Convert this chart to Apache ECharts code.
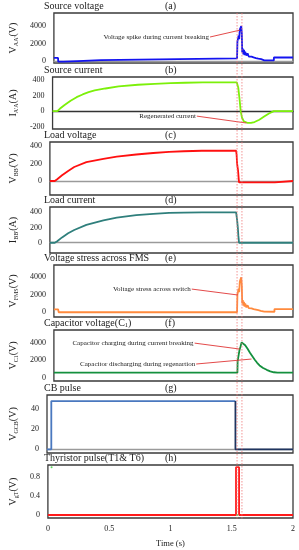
<!DOCTYPE html>
<html><head><meta charset="utf-8">
<script src="https://cdn.jsdelivr.net/npm/echarts@6/dist/echarts.min.js"></script>
<style>html,body{margin:0;padding:0;background:#fff}#c{width:299px;height:550px}</style>
</head><body><div id="c"></div>
<script>
// ---------------- DATA ----------------
const timeTicks = [0, 0.5, 1, 1.5, 2];
const panelTitles = ['Source voltage', 'Source current', 'Load voltage', 'Load current',
  'Voltage stress across FMS', 'Capacitor voltage(C{sb|1})', 'CB pulse', 'Thyristor pulse(T1& T6)'];
const panelTags = ['(a)', '(b)', '(c)', '(d)', '(e)', '(f)', '(g)', '(h)'];
const yNames = [['V', "AA'", '(V)'], ['I', "A'A", '(A)'], ['V', "BB'", '(V)'], ['I', "BB'", '(A)'],
  ['V', 'FMS', '(V)'], ['V', 'C1', '(V)'], ['V', 'GCB', '(V)'], ['V', 'gT', '(V)']];
const yTicks = [[0, 2000, 4000], [-200, 0, 200, 400], [0, 200, 400], [0, 200, 400],
  [0, 2000, 4000], [0, 2000, 4000], [0, 20, 40], [0, 0.4, 0.8]];
const yRanges = [[-250, 5500], [-230, 440], [-160, 446], [-135, 470],
  [-540, 5400], [-380, 5450], [-3.7, 54], [-0.063, 1.046]];

const sourceVoltage = [[0,330],[0.035,330],[0.036,-100],[0.08,-100],[0.08,-30],[0.2,-30],[0.2,80],[0.39,80],[0.39,280],
  [1.532,280],[1.535,2200],[1.545,2900],[1.55,2500],[1.555,3600],[1.567,4000],[1.572,3100],[1.575,1000],[1.58,1400],
  [1.585,750],[1.59,1250],[1.595,650],[1.6,1050],[1.61,600],[1.62,850],[1.63,500],[1.64,650],[1.653,490],[1.67,400],
  [1.69,320],[1.71,250],[1.734,190],[1.76,60],[1.84,50],[1.84,380],[2,380]];
const sourceCurrent = [[0,0],[0.04,0],[0.06,30],[0.1,80],[0.15,135],[0.2,180],[0.25,215],[0.3,245],[0.35,268],
  [0.44,292],[0.55,318],[0.71,340],[0.85,352],[0.98,360],[1.1,366],[1.25,372],[1.532,372],[1.545,300],[1.555,160],
  [1.565,0],[1.575,-80],[1.59,-130],[1.62,-150],[1.65,-152],[1.68,-140],[1.72,-110],[1.76,-70],[1.8,-30],[1.84,0],[2,0]];
const loadVoltage = [[0,0],[0.04,0],[0.06,20],[0.1,65],[0.15,115],[0.2,160],[0.3,215],[0.44,252],[0.55,278],
  [0.71,303],[0.85,320],[0.98,333],[1.1,340],[1.25,346],[1.532,346],[1.536,300],[1.54,200],[1.548,120],[1.553,30],
  [1.556,-15],[1.85,-15],[1.85,0],[2,0]];
const loadCurrent = [[0,0],[0.04,0],[0.06,20],[0.1,70],[0.15,125],[0.2,168],[0.3,235],[0.44,295],[0.55,330],
  [0.71,362],[0.85,380],[0.98,392],[1.1,396],[1.25,400],[1.532,400],[1.536,380],[1.54,300],[1.546,200],[1.55,100],
  [1.556,0],[2,0]];
const fmsVoltage = [[0,340],[0.035,340],[0.04,0],[1.532,0],[1.535,2000],[1.545,2700],[1.55,2300],[1.555,3500],
  [1.567,4000],[1.572,3000],[1.575,1000],[1.58,1400],[1.585,750],[1.59,1200],[1.595,650],[1.6,1000],[1.61,560],
  [1.62,800],[1.63,480],[1.64,600],[1.653,450],[1.67,360],[1.69,300],[1.71,240],[1.73,160],[1.76,70],[1.845,60],
  [1.845,370],[2,370]];
const capVoltage = [[0,570],[1.535,570],[1.537,1900],[1.55,2100],[1.553,3200],[1.56,3500],[1.57,4030],[1.585,3950],
  [1.6,3700],[1.62,3300],[1.64,2850],[1.66,2450],[1.68,2050],[1.7,1700],[1.72,1400],[1.75,1100],[1.78,900],
  [1.81,720],[1.84,620],[1.87,580],[2,570]];
const cbPulseOn = [[0,0],[0.035,0],[0.035,48],[1.532,48]];
const cbPulseOff = [[1.532,48],[1.532,0],[2,0]];
const thyristorPulse = [[0,0],[1.535,0],[1.535,1],[1.56,1],[1.56,0],[2,0]];
const otherThyristor = [[0.03,1],[1.545,0]];
const breakTimes = [1.532, 1.573];
// annotations: [panel, text, textEnd t, textEnd v, arrowEnd t, arrowEnd v]
const notes = [
  [0, 'Voltage spike during current breaking', 1.306, 2740, 1.556, 3530],
  [1, 'Regenerated current', 1.20, -64, 1.613, -153],
  [4, 'Voltage stress across switch', 1.153, 2650, 1.54, 1970],
  [5, 'Capacitor charging during current breaking', 1.177, 3950, 1.556, 3270],
  [5, 'Capacitor discharging during regenartion', 1.19, 1560, 1.653, 2130]
];

// ---------------- LAYOUT ----------------
const FONT = "'Liberation Serif', 'Times New Roman', serif";
const tops = [13, 77, 142, 207, 265, 330, 395, 465];
const heights = [50, 52, 53, 46, 52, 51, 58, 53];
const zeroLine = ['#9a9a9a', '#333', '#9a9a9a', '#9a9a9a', null, null, '#9a9a9a', null];
const seriesOf = [
  [{d: sourceVoltage, c: '#1414f0'}], [{d: sourceCurrent, c: '#7cf00a'}], [{d: loadVoltage, c: '#ff1010'}],
  [{d: loadCurrent, c: '#2f7f7c'}], [{d: fmsVoltage, c: '#ff8a3d'}], [{d: capVoltage, c: '#14903e'}],
  [{d: cbPulseOn, c: '#4a78bf'}, {d: cbPulseOff, c: '#1f3560'}], [{d: thyristorPulse, c: '#ff1a1a'}]
];

const chart = echarts.init(document.getElementById('c'));
const grid = [], xAxis = [], yAxis = [], series = [], title = [];
for (let i = 0; i < 8; i++) {
  const last = i === 7;
  grid.push({left: 44, right: 6, top: tops[i], height: heights[i], show: true, borderColor: '#3a3a3a', borderWidth: 1.3, backgroundColor: 'transparent'});
  xAxis.push({type: 'value', gridIndex: i, min: 0, max: 2, interval: 0.5,
    axisLine: {show: !!zeroLine[i], onZero: true, lineStyle: {color: zeroLine[i] || '#999', width: 1.3}},
    axisTick: {show: false}, splitLine: {show: false},
    axisLabel: {show: last, fontFamily: FONT, fontSize: 8, color: '#222', margin: 7,
      customValues: timeTicks, formatter: v => String(v)},
    name: last ? 'Time (s)' : '', nameLocation: 'middle', nameGap: 21,
    nameTextStyle: {fontFamily: FONT, fontSize: 8.5, color: '#222'}});
  const n = yNames[i];
  yAxis.push({type: 'value', gridIndex: i, min: yRanges[i][0], max: yRanges[i][1],
    axisLine: {show: false}, axisTick: {show: false}, splitLine: {show: false},
    axisLabel: {fontFamily: FONT, fontSize: 8, color: '#222', margin: 8, customValues: yTicks[i],
      formatter: v => String(v)},
    name: '{m|' + n[0] + '}{s|' + n[1] + '}{m|' + n[2] + '}', nameLocation: 'middle', nameRotate: 90, nameGap: 28,
    nameTextStyle: {rich: {
      m: {fontFamily: FONT, fontSize: 10, color: '#222', lineHeight: 12},
      s: {fontFamily: FONT, fontSize: 6, color: '#222', lineHeight: 12, verticalAlign: 'bottom', padding: [5, 0, 0, 0]}}}});
  seriesOf[i].forEach(s => series.push({type: 'line', xAxisIndex: i, yAxisIndex: i, data: s.d, showSymbol: false,
    lineStyle: {color: s.c, width: 1.8}, itemStyle: {color: s.c}, animation: false, silent: true, z: 3}));
  title.push({text: panelTitles[i], left: 44, top: tops[i] - 12, padding: 0,
    textStyle: {fontFamily: FONT, fontSize: 10, fontWeight: 'normal', color: '#222',
      rich: {sb: {fontFamily: FONT, fontSize: 6.5, color: '#222', verticalAlign: 'bottom', padding: [4, 0, 0, 0]}}}});
  title.push({text: panelTags[i], left: 165, top: tops[i] - 12, padding: 0,
    textStyle: {fontFamily: FONT, fontSize: 10, fontWeight: 'normal', color: '#222'}});
}
series.push({type: 'scatter', xAxisIndex: 7, yAxisIndex: 7, data: otherThyristor, symbolSize: 2,
  itemStyle: {color: '#33cc33'}, animation: false, silent: true, z: 4});
// arrows for annotations
notes.forEach(a => series.push({type: 'line', xAxisIndex: a[0], yAxisIndex: a[0], data: [], animation: false, silent: true,
  markLine: {silent: true, animation: false, symbol: ['none', 'arrow'], symbolSize: [0, 9], label: {show: false},
    lineStyle: {color: '#e03535', width: 0.9, type: 'solid'}, itemStyle: {color: '#cc1111'},
    data: [[{coord: [a[2], a[3]]}, {coord: [a[4], a[5]]}]]}}));

chart.setOption({animation: false, grid, xAxis, yAxis, series, title});

// overlay: break-time dotted lines and annotation texts
const graphic = [];
const yTop = tops[0], yBot = tops[7] + heights[7] + 2;
breakTimes.forEach(t => {
  const x = chart.convertToPixel({xAxisIndex: 0}, t);
  graphic.push({type: 'line', shape: {x1: x, y1: yTop, x2: x, y2: yBot}, silent: true, z: 10,
    style: {stroke: '#f07a7a', lineWidth: 0.8, lineDash: [1.5, 1.5]}});
});
notes.forEach(a => {
  const p = chart.convertToPixel({xAxisIndex: a[0], yAxisIndex: a[0]}, [a[2], a[3]]);
  graphic.push({type: 'text', x: p[0] - 1, y: p[1], silent: true, z: 11,
    style: {text: a[1], fontFamily: FONT, fontSize: 7, fill: '#222', align: 'right', verticalAlign: 'middle'}});
});
chart.setOption({graphic});
</script></body></html>
